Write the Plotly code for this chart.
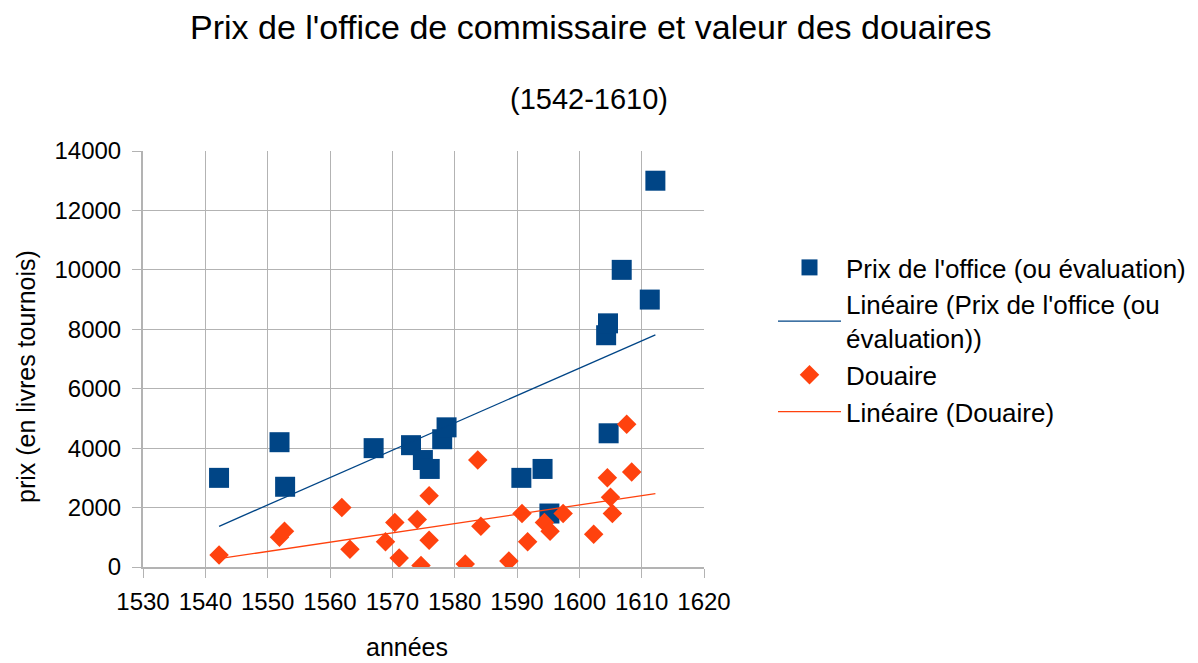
import numpy as np
import plotly.graph_objects as go

# Prix de l'office (ou évaluation)
office_years = [1542.2, 1551.9, 1552.8, 1567.0, 1573.0, 1574.9, 1576.0, 1578.0, 1578.7,
                1590.7, 1594.1, 1595.2, 1604.7, 1604.3, 1604.6, 1606.8, 1611.3, 1612.2]
office_values = [3000, 4200, 2700, 4000, 4100, 3600, 3300, 4300, 4700,
                 3000, 3300, 1800, 4500, 7800, 8200, 10000, 9000, 13000]

# Douaire
douaire_years = [1542.2, 1551.9, 1552.7, 1561.9, 1563.2, 1568.9, 1570.4, 1571.1, 1574.0,
                 1574.6, 1575.9, 1575.9, 1581.7, 1583.7, 1584.2, 1588.7, 1590.8, 1591.7,
                 1594.4, 1595.3, 1597.4, 1602.3, 1604.5, 1605.0, 1605.3, 1607.6, 1608.4]
douaire_values = [400, 1000, 1200, 2000, 600, 850, 1500, 300, 1600,
                  50, 2400, 900, 100, 3600, 1370, 200, 1800, 850,
                  1500, 1200, 1800, 1100, 3000, 2350, 1800, 4800, 3200]

x_ticks = [1530, 1540, 1550, 1560, 1570, 1580, 1590, 1600, 1610, 1620]
y_ticks = [0, 2000, 4000, 6000, 8000, 10000, 12000, 14000]

BLUE = "#004586"
ORANGE = "#ff420e"
FONT = "Liberation Sans, Arial, sans-serif"

W, H = 1198, 663
OFF = 8  # page body offset
# plot area in window pixels
PL, PR, PT, PB = 143, 704, 151, 567
ML, MT = PL - OFF, PT - OFF
MR, MB = W - (PR - OFF), H - (PB - OFF)
PW, PH = PR - PL, PB - PT


def px_x(x):
    return (x - PL) / PW


def px_y(y):
    return (PB - y) / PH


all_years = office_years + douaire_years
x_span = [min(all_years), max(all_years)]


def trend(xs, ys):
    a, b = np.polyfit(xs, ys, 1)
    return x_span, [a * v + b for v in x_span]


ox, oy = trend(office_years, office_values)
dx, dy = trend(douaire_years, douaire_values)

fig = go.Figure()
fig.add_trace(go.Scatter(
    x=office_years, y=office_values, mode="markers",
    name="Prix de l'office (ou évaluation)", legendrank=1,
    marker=dict(symbol="square", size=20, color=BLUE, line=dict(width=0)),
))
fig.add_trace(go.Scatter(
    x=douaire_years, y=douaire_values, mode="markers",
    name="Douaire", legendrank=3,
    marker=dict(symbol="diamond", size=15, color=ORANGE, line=dict(width=0)),
))
fig.add_trace(go.Scatter(
    x=ox, y=oy, mode="lines",
    name="Linéaire (Prix de l'office (ou<br>évaluation))", legendrank=2,
    line=dict(color=BLUE, width=1.3),
))
fig.add_trace(go.Scatter(
    x=dx, y=dy, mode="lines",
    name="Linéaire (Douaire)", legendrank=4,
    line=dict(color=ORANGE, width=1.3),
))

fig.update_layout(
    width=W, height=H,
    paper_bgcolor="white", plot_bgcolor="white",
    margin=dict(l=ML, r=MR, t=MT, b=MB, autoexpand=False),
    font=dict(family=FONT, color="black", size=24),
    showlegend=True,
    legend=dict(
        xref="container", yref="container",
        x=(773 - OFF) / W, y=1 - (244 - OFF) / H, xanchor="left", yanchor="top",
        font=dict(size=26, family=FONT),
        bgcolor="rgba(0,0,0,0)",
        itemwidth=63,
        tracegroupgap=0,
    ),
)
fig.add_annotation(text="Prix de l'office de commissaire et valeur des douaires",
                   xref="paper", yref="paper", x=px_x(590), y=px_y(27),
                   xanchor="center", yanchor="middle", showarrow=False,
                   font=dict(size=34, family=FONT))
fig.add_annotation(text="(1542-1610)",
                   xref="paper", yref="paper", x=px_x(589), y=px_y(99),
                   xanchor="center", yanchor="middle", showarrow=False,
                   font=dict(size=29, family=FONT))
fig.add_annotation(text="années",
                   xref="paper", yref="paper", x=px_x(407), y=px_y(647),
                   xanchor="center", yanchor="middle", showarrow=False,
                   font=dict(size=25, family=FONT))
fig.add_annotation(text="prix (en livres tournois)",
                   xref="paper", yref="paper", x=px_x(26), y=px_y(377),
                   xanchor="center", yanchor="middle", showarrow=False, textangle=-90,
                   font=dict(size=25, family=FONT))

fig.update_xaxes(
    range=[1530, 1620], tickvals=x_ticks, ticktext=[str(v) for v in x_ticks],
    showgrid=True, gridcolor="#b3b3b3", gridwidth=1,
    showline=True, linecolor="#b3b3b3", linewidth=2,
    ticks="outside", ticklen=9, tickcolor="#b3b3b3",
    tickfont=dict(size=24), zeroline=False, mirror=False,
    ticklabelstandoff=3,
)
fig.update_yaxes(
    range=[0, 14000], tickvals=y_ticks, ticktext=[str(v) for v in y_ticks],
    showgrid=True, gridcolor="#b3b3b3", gridwidth=1,
    showline=True, linecolor="#b3b3b3", linewidth=2,
    ticks="outside", ticklen=9, tickcolor="#b3b3b3",
    tickfont=dict(size=24), zeroline=False,
    ticklabelstandoff=6,
)

fig.write_html("out.html")
